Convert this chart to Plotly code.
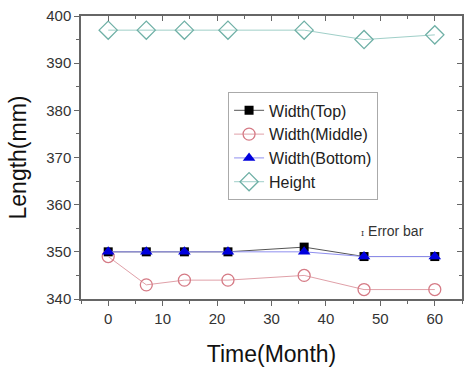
import plotly.graph_objects as go

months = [0, 7, 14, 22, 36, 47, 60]
width_top = [350, 350, 350, 350, 351, 349, 349]
width_middle = [349, 343, 344, 344, 345, 342, 342]
width_bottom = [350, 350, 350, 350, 350, 349, 349]
height = [397, 397, 397, 397, 397, 395, 396]
err_width = [0.3, 0.3, 0.3, 0.3, 0.3, 0.3, 0.3]

FONT = "Liberation Sans, Arial, sans-serif"
AX = "#666666"

fig = go.Figure()
fig.add_trace(go.Scatter(
    x=months, y=width_top, name="Width(Top)", mode="lines+markers",
    line=dict(color="#555555", width=1),
    marker=dict(symbol="square", size=9, color="black"),
    error_y=dict(type="data", array=err_width, color="#333333", thickness=1, width=3),
))
fig.add_trace(go.Scatter(
    x=months, y=width_middle, name="Width(Middle)", mode="lines+markers",
    line=dict(color="#e0a0a8", width=1),
    marker=dict(symbol="circle-open", size=12, color="#d57a85", line=dict(width=1.3)),
))
fig.add_trace(go.Scatter(
    x=months, y=width_bottom, name="Width(Bottom)", mode="lines+markers",
    line=dict(color="#8f8fef", width=1),
    marker=dict(symbol="triangle-up", size=11, color="#0000dd"),
    error_y=dict(type="data", array=err_width, color="#0000cc", thickness=1, width=3),
))
fig.add_trace(go.Scatter(
    x=months, y=height, name="Height", mode="lines+markers",
    line=dict(color="#9fcfc8", width=1),
    marker=dict(symbol="diamond-open", size=14, color="#6fb0a6", line=dict(width=1.3)),
))
# invisible trace to realise the mirrored (top/right) axes with inward ticks
fig.add_trace(go.Scatter(
    x=months, y=height, xaxis="x2", yaxis="y2", mode="markers",
    marker=dict(opacity=0), showlegend=False, hoverinfo="skip",
))

fig.update_layout(
    width=464, height=370,
    margin=dict(l=81, r=2, t=16, b=71),
    paper_bgcolor="white", plot_bgcolor="white",
    font=dict(family=FONT, color="#333333"),
    showlegend=True,
    legend=dict(
        x=0.386, y=0.73, xanchor="left", yanchor="top",
        bordercolor="#aaaaaa", borderwidth=1, bgcolor="white",
        font=dict(size=16, color="#222222", family=FONT),
        tracegroupgap=0, itemwidth=30,
    ),
    xaxis=dict(
        range=[-5, 65], dtick=10, tick0=0,
        showgrid=False, zeroline=False,
        showline=True, linecolor=AX, linewidth=1.5,
        ticks="outside", ticklen=5, tickcolor=AX, tickwidth=1.2,
        minor=dict(ticks="outside", dtick=5, tick0=0, ticklen=3, tickcolor=AX),
        tickfont=dict(size=15, color="#333333"),
        title=dict(text="Time(Month)", font=dict(size=23, color="#111111"), standoff=20),
    ),
    yaxis=dict(
        range=[340, 400], dtick=10, tick0=340,
        showgrid=False, zeroline=False,
        showline=True, linecolor=AX, linewidth=1.5,
        ticks="outside", ticklen=5, tickcolor=AX, tickwidth=1.2,
        minor=dict(ticks="outside", dtick=5, tick0=340, ticklen=3, tickcolor=AX),
        tickfont=dict(size=15, color="#333333"),
        title=dict(text="Length(mm)", font=dict(size=23, color="#111111"), standoff=13),
    ),
    xaxis2=dict(
        overlaying="x", side="top", range=[-5, 65], dtick=10, tick0=0,
        showgrid=False, zeroline=False, showticklabels=False,
        showline=True, linecolor=AX, linewidth=1.5,
        ticks="inside", ticklen=5, tickcolor=AX, tickwidth=1.2,
        minor=dict(ticks="inside", dtick=5, tick0=0, ticklen=3, tickcolor=AX),
    ),
    yaxis2=dict(
        overlaying="y", side="right", range=[340, 400], dtick=10, tick0=340,
        showgrid=False, zeroline=False, showticklabels=False,
        showline=True, linecolor=AX, linewidth=1.5,
        ticks="inside", ticklen=5, tickcolor=AX, tickwidth=1.2,
        minor=dict(ticks="inside", dtick=5, tick0=340, ticklen=3, tickcolor=AX),
    ),
    annotations=[dict(
        xref="paper", yref="paper", x=0.73, y=0.24, xanchor="left", yanchor="middle",
        text="<span style='font-size:8px;font-family:DejaVu Serif'>I</span> Error bar",
        showarrow=False, font=dict(size=14, color="#333333", family=FONT),
    )],
)

fig.write_html("out.html")
